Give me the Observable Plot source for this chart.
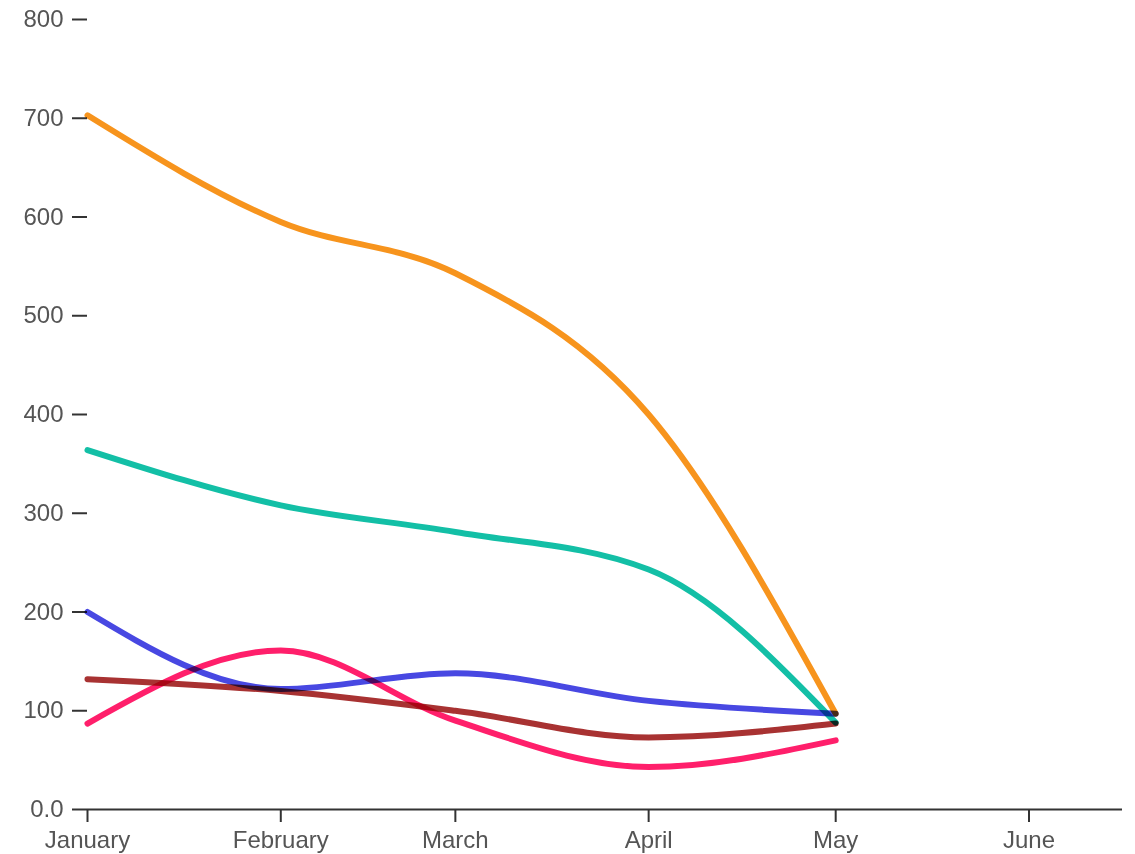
<!DOCTYPE html>
<html>
<head>
<meta charset="utf-8">
<script src="https://cdn.jsdelivr.net/npm/d3@7"></script>
<script src="https://cdn.jsdelivr.net/npm/@observablehq/plot@0.6"></script>
<style>
  html, body { margin: 0; padding: 0; background: #fff; }
  #chart svg { display: block; }
  #chart path.series, #chart .series path { mix-blend-mode: multiply; }
</style>
</head>
<body>
<div id="chart"></div>
<script>
// Months (first of month) at which values are recorded
const months = ["2021-01-01", "2021-02-01", "2021-03-01", "2021-04-01", "2021-05-01"];
// Axis tick months
const tickMonths = ["2021-01-01", "2021-02-01", "2021-03-01", "2021-04-01", "2021-05-01", "2021-06-01"];
const tickMonthNames = ["January", "February", "March", "April", "May", "June"];
const yTicks = [0, 100, 200, 300, 400, 500, 600, 700, 800];

// Series values
const seriesNames = ["Series 1", "Series 2", "Series 3", "Series 4", "Series 5"];
const series1Values = [703, 595, 543, 400, 97];
const series2Values = [364, 308, 281, 243, 88];
const series3Values = [200, 122, 138, 110, 97];
const series4Values = [87, 161, 90, 43, 70];
const series5Values = [132, 120, 100, 73, 87];
const seriesColors = ["#f7941d", "#13bfa6", "#4848e2", "#ff1f6b", "#a83232"];

const allValues = [series1Values, series2Values, series3Values, series4Values, series5Values];
const data = [];
seriesNames.forEach((name, i) => {
  months.forEach((m, j) => {
    data.push({series: name, date: new Date(m), value: allValues[i][j]});
  });
});

const tickDates = tickMonths.map(d => new Date(d));
const nameByTime = new Map(tickDates.map((d, i) => [+d, tickMonthNames[i]]));

const chart = Plot.plot({
  width: 1135,
  height: 854,
  marginTop: 19,
  marginBottom: 45,
  marginLeft: 87,
  marginRight: 13,
  style: {fontFamily: "'Liberation Sans', Arial, sans-serif", fontSize: "24px", color: "#555", background: "#fff"},
  x: {type: "utc", domain: [new Date("2021-01-01"), new Date("2021-06-16")]},
  y: {domain: [0, 800]},
  color: {type: "ordinal", domain: seriesNames, range: seriesColors},
  marks: [
    Plot.axisY({ticks: yTicks, tickSize: 15, tickPadding: 9, stroke: "#333", strokeWidth: 2, fill: "#555",
      tickFormat: d => d === 0 ? "0.0" : String(d), label: null}),
    Plot.axisX({ticks: tickDates, tickSize: 13, tickPadding: 8, stroke: "#333", strokeWidth: 2, fill: "#555",
      tickFormat: d => nameByTime.get(+d), label: null}),
    Plot.ruleY([0], {stroke: "#333", strokeWidth: 2}),
    Plot.line(data, {x: "date", y: "value", z: "series", stroke: "series", strokeWidth: 6,
      curve: "monotone-x", className: "series", mixBlendMode: "multiply"})
  ]
});
document.getElementById("chart").appendChild(chart);
</script>
</body>
</html>
